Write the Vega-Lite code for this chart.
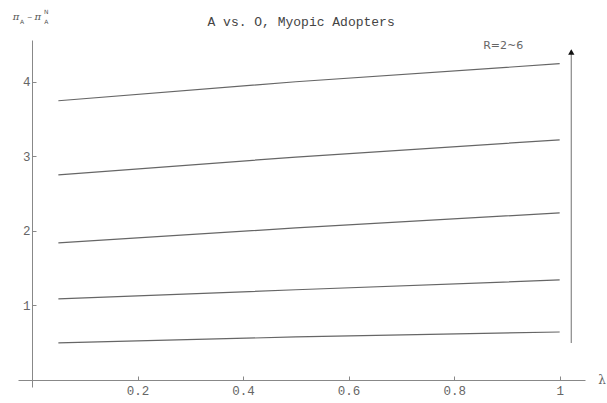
{
  "$schema": "https://vega.github.io/schema/vega-lite/v6.json",
  "width": 567,
  "height": 347,
  "autosize": {"type": "none"},
  "padding": {"left": 18, "top": 40, "right": 22, "bottom": 16},
  "background": "white",
  "config": {"view": {"stroke": null}},
  "datasets": {
    "curves": [
      {"R": 2, "x": 0.05, "y": 0.497}, {"R": 2, "x": 0.5, "y": 0.577}, {"R": 2, "x": 1.0, "y": 0.644},
      {"R": 3, "x": 0.05, "y": 1.087}, {"R": 3, "x": 0.5, "y": 1.21}, {"R": 3, "x": 1.0, "y": 1.342},
      {"R": 4, "x": 0.05, "y": 1.839}, {"R": 4, "x": 0.5, "y": 2.04}, {"R": 4, "x": 1.0, "y": 2.242},
      {"R": 5, "x": 0.05, "y": 2.752}, {"R": 5, "x": 0.5, "y": 2.99}, {"R": 5, "x": 1.0, "y": 3.221},
      {"R": 6, "x": 0.05, "y": 3.745}, {"R": 6, "x": 0.5, "y": 4.0}, {"R": 6, "x": 1.0, "y": 4.242}
    ],
    "arrow": [{"x": 1.022, "y": 0.497, "y2": 4.42}],
    "head": [{"x": 1.022, "y": 4.40}],
    "rlabel": [{"x": 0.893, "y": 4.483, "label": "R=2~6"}],
    "title": [{"x": 0.51, "y": 4.80, "label": "A vs. O, Myopic Adopters"}],
    "lambda": [{"x": 1.073, "y": 0.0, "label": "λ"}],
    "ybig": [{"x": -0.030, "y": 4.872, "label": "π"}, {"x": -0.004, "y": 4.872, "label": "–"}, {"x": 0.011, "y": 4.872, "label": "π"}],
    "ysub": [{"x": -0.019, "y": 4.80, "label": "A"}, {"x": 0.027, "y": 4.80, "label": "A"}, {"x": 0.027, "y": 4.94, "label": "N"}]
  },
  "encoding": {
    "x": {"field": "x", "type": "quantitative",
      "scale": {"domain": [-0.0265, 1.048], "nice": false, "zero": false},
      "axis": {"values": [0.2, 0.4, 0.6, 0.8, 1], "format": ".1~f", "title": null, "grid": false,
        "offset": -7, "domainColor": "#888", "tickColor": "#888", "tickSize": -4, "labelPadding": 8,
        "labelFont": "Liberation Mono", "labelFontSize": 12.5, "labelColor": "#666"}},
    "y": {"field": "y", "type": "quantitative",
      "scale": {"domain": [-0.094, 4.56], "nice": false, "zero": false},
      "axis": {"values": [1, 2, 3, 4], "title": null, "grid": false,
        "offset": -14, "domainColor": "#888", "tickColor": "#888", "tickSize": -4, "labelPadding": 6,
        "labelFont": "Liberation Mono", "labelFontSize": 12.5, "labelColor": "#666"}}
  },
  "layer": [
    {"data": {"name": "curves"}, "mark": {"type": "line", "color": "#666", "strokeWidth": 1.2},
     "encoding": {"detail": {"field": "R", "type": "nominal"}}},
    {"data": {"name": "arrow"}, "mark": {"type": "rule", "color": "#888", "strokeWidth": 1.2},
     "encoding": {"y2": {"field": "y2"}}},
    {"data": {"name": "head"}, "mark": {"type": "point", "shape": "triangle-up", "filled": true, "color": "#111", "size": 40, "opacity": 1}},
    {"data": {"name": "rlabel"}, "mark": {"type": "text", "font": "DejaVu Sans", "fontSize": 11, "color": "#666", "align": "center", "baseline": "middle"},
     "encoding": {"text": {"field": "label"}}},
    {"data": {"name": "title"}, "mark": {"type": "text", "font": "Liberation Mono", "fontSize": 13, "color": "#444", "align": "center", "baseline": "middle"},
     "encoding": {"text": {"field": "label"}}},
    {"data": {"name": "lambda"}, "mark": {"type": "text", "font": "DejaVu Serif", "fontSize": 12, "color": "#666", "align": "left", "baseline": "middle"},
     "encoding": {"text": {"field": "label"}}},
    {"data": {"name": "ybig"}, "mark": {"type": "text", "font": "DejaVu Serif", "fontStyle": "italic", "fontSize": 10, "color": "#555", "align": "center", "baseline": "middle"},
     "encoding": {"text": {"field": "label"}}},
    {"data": {"name": "ysub"}, "mark": {"type": "text", "font": "DejaVu Sans", "fontSize": 6, "color": "#555", "align": "center", "baseline": "middle"},
     "encoding": {"text": {"field": "label"}}}
  ]
}
